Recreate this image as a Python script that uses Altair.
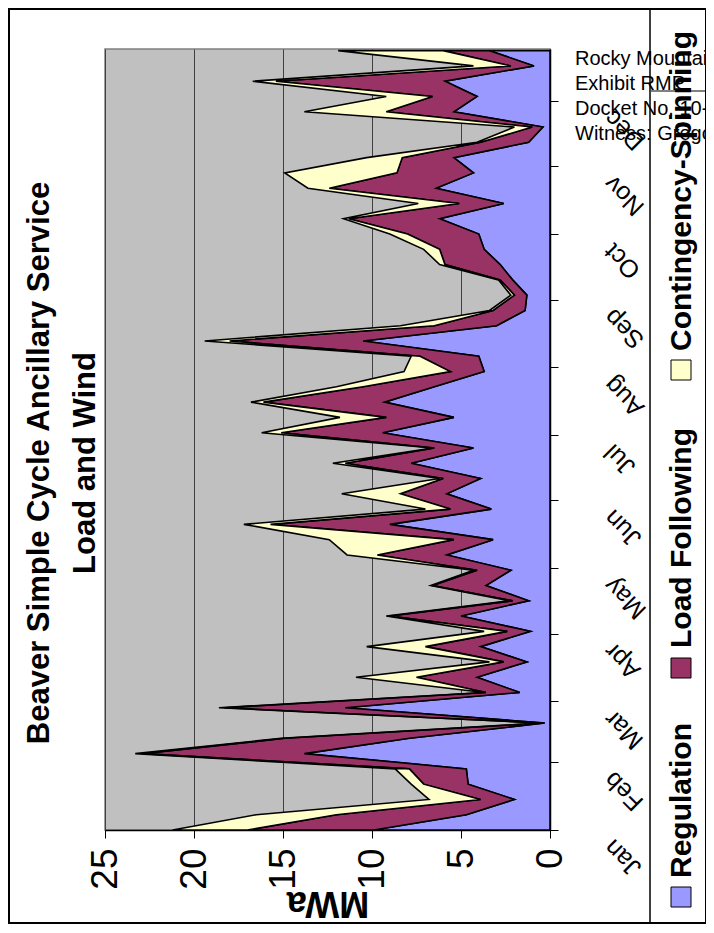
import altair as alt
import pandas as pd

FONT = "Liberation Sans, Arial, Helvetica, sans-serif"

series_names = ["Regulation", "Load Following", "Contingency-Spinning"]
series_colors = ["#9999FF", "#993366", "#FFFFCC"]

# weekly observations, Jan 1 onward
week_starts = pd.date_range("2009-01-01", periods=52, freq="7D")

regulation = [9.9, 4.7, 2.0, 4.6, 4.7, 13.8, 7.9, 0.3, 11.5, 1.7,
              4.1, 1.3, 3.9, 1.1, 5.0, 1.2, 3.6, 2.2, 5.8, 3.2,
              9.0, 3.3, 5.8, 3.9, 7.8, 4.3, 9.4, 5.4, 9.3, 6.5,
              3.7, 4.0, 10.5, 3.0, 1.4, 1.3, 2.1, 2.8, 3.7, 4.0,
              6.2, 2.6, 6.4, 4.3, 5.4, 1.2, 0.4, 5.4, 4.1, 5.9,
              0.9, 3.4]
load_following = [7.1, 7.3, 1.9, 2.5, 3.2, 9.1, 7.0, 0.15, 6.8, 1.9,
                  3.4, 1.3, 3.1, 1.3, 4.0, 0.9, 3.0, 1.9, 3.9, 2.2,
                  6.7, 2.3, 2.6, 2.1, 3.7, 2.2, 5.7, 3.8, 6.8, 4.0,
                  1.9, 3.3, 7.5, 3.5, 1.8, 0.7, 0.7, 3.1, 2.5, 4.0,
                  5.1, 2.5, 6.0, 4.3, 2.9, 2.7, 0.6, 3.8, 2.5, 9.5,
                  1.3, 2.6]
contingency = [4.2, 4.5, 2.9, 0.7, 0.8, 0.4, 0.2, 0.05, 0.3, 0.1,
               3.4, 0.8, 3.3, 1.3, 0.2, 0.2, 0.1, 0.2, 1.7, 7.0,
               1.5, 1.4, 3.3, 0.2, 0.7, 0.1, 1.1, 2.6, 0.7, 1.5,
               2.6, 0.5, 1.4, 1.9, 0.2, 0.2, 0.1, 0.3, 0.9, 1.0,
               0.3, 2.3, 1.2, 6.3, 2.0, 0.2, 1.0, 4.6, 2.6, 1.3,
               2.1, 5.9]

value_ticks = [0, 5, 10, 15, 20, 25]
month_ticks = [alt.DateTime(year=2009, month=m, date=1) for m in range(1, 13)]

title_lines = ["Beaver Simple Cycle Ancillary Service", "Load and Wind"]
stamp_lines = ["Rocky Mountain Power", "Exhibit RMP", "Docket No. 10-",
               "Witness: Gregory N. Duvall"]

rows = []
for k, (name, vals) in enumerate(zip(series_names, [regulation, load_following, contingency])):
    for d, v in zip(week_starts, vals):
        rows.append({"date": d.strftime("%Y-%m-%dT%H:%M:%S"), "series": name,
                     "ord": k, "mwa": v})
df = pd.DataFrame(rows)
blank = pd.DataFrame({"k": [0]})

areas = alt.Chart(df).mark_area(
    orient="horizontal", stroke="black", strokeWidth=1.6, interpolate="linear"
).encode(
    x=alt.X("mwa:Q", stack="zero",
            scale=alt.Scale(domain=[0, 25], reverse=True, nice=False),
            axis=alt.Axis(values=value_ticks, title="MWa", titleAngle=180,
                          titleFontSize=36, titleFontWeight="bold", titleFont=FONT,
                          titleColor="black", titleY=72, titleBaseline="middle",
                          labelAngle=270, labelAlign="right", labelBaseline="middle",
                          labelFontSize=37, labelFont=FONT, labelColor="black",
                          labelPadding=10, tickSize=8, tickColor="black",
                          domainColor="black", domainWidth=1.5,
                          grid=True, gridColor="#404040", gridWidth=1,
                          labelFlush=False, labelOverlap=False)),
    y=alt.Y("date:T",
            scale=alt.Scale(domain=[alt.DateTime(year=2009, month=1, date=1),
                                    alt.DateTime(year=2009, month=12, date=24, hours=18)]),
            axis=alt.Axis(orient="right", values=month_ticks, format="%b", title=None,
                          labelAngle=225, labelAlign="right", labelBaseline="middle",
                          labelPadding=50, labelOffset=13, labelFontSize=25,
                          labelFont=FONT, labelColor="black", tickSize=8,
                          tickColor="black", domainColor="black", domainWidth=1.5,
                          grid=False, labelOverlap=False, labelFlush=False,
                          labelBound=False)),
    color=alt.Color("series:N", scale=alt.Scale(domain=series_names, range=series_colors),
                    legend=None),
    order=alt.Order("ord:Q", sort="ascending"),
)

frame = alt.Chart(blank).mark_rect(filled=False, stroke="black", strokeWidth=2).encode(
    x=alt.value(-96), x2=alt.value(601), y=alt.value(-40), y2=alt.value(874))
band = alt.Chart(blank).mark_rect(fill="#d2d2d2").encode(
    x=alt.value(602), x2=alt.value(609), y=alt.value(-41), y2=alt.value(876))
separator = alt.Chart(blank).mark_rule(color="black", strokeWidth=1.5).encode(
    x=alt.value(545), y=alt.value(-40), y2=alt.value(874))
stamp_rule = alt.Chart(blank).mark_rule(color="black", strokeWidth=1).encode(
    x=alt.value(546), x2=alt.value(609), y=alt.value(42))

title = alt.Chart(blank).mark_text(
    text="\n".join(title_lines), lineBreak="\n", angle=270, align="center",
    baseline="middle", fontSize=31, fontWeight="bold", font=FONT, lineHeight=46,
    color="black").encode(x=alt.value(-65), y=alt.value(414))

legend_y_square = [848, 619, 321]
legend_y_text = [829, 599, 302]
legend_layers = []
for name, col, ys, yt in zip(series_names, series_colors, legend_y_square, legend_y_text):
    legend_layers.append(alt.Chart(blank).mark_square(
        size=400, filled=True, fill=col, stroke="black", strokeWidth=1, opacity=1
    ).encode(x=alt.value(576), y=alt.value(ys)))
    legend_layers.append(alt.Chart(blank).mark_text(
        text=name, angle=270, align="left", baseline="alphabetic", fontSize=30,
        fontWeight="bold", font=FONT, color="black"
    ).encode(x=alt.value(586), y=alt.value(yt)))

stamp = alt.Chart(blank).mark_text(
    text="\n".join(stamp_lines), lineBreak="\n", align="left", baseline="alphabetic",
    fontSize=20, font=FONT, lineHeight=25, color="black"
).encode(x=alt.value(470), y=alt.value(16))

chart = alt.layer(band, frame, separator, areas, title, *legend_layers, stamp_rule, stamp).properties(
    width=445, height=781,
    autosize=alt.AutoSizeParams(type="none"),
    padding={"left": 97, "top": 41, "right": 156, "bottom": 95},
    background="white",
).configure_view(fill="#C0C0C0", stroke="#808080", strokeWidth=1.5)

chart.save("out.html", embed_options={"renderer": "svg", "actions": False})
